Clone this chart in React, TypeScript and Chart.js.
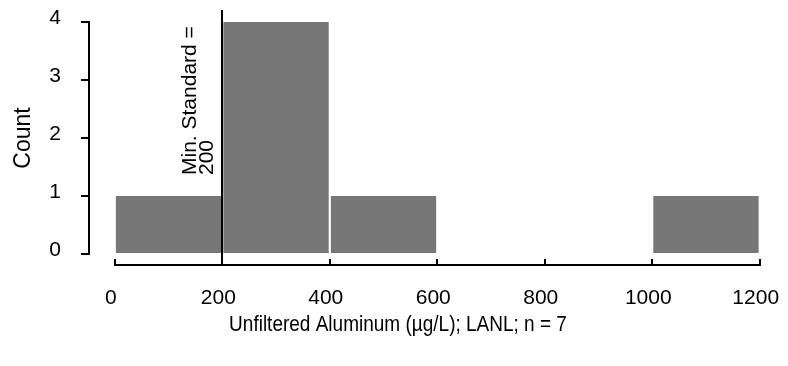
import React, { useEffect, useRef } from "react";
import { Chart, registerables } from "chart.js";

Chart.register(...registerables);

const binCenters = [100, 300, 500, 700, 900, 1100];
const counts = [1, 4, 1, 0, 0, 1];
const xTickValues = [0, 200, 400, 600, 800, 1000, 1200];
const yTickValues = [0, 1, 2, 3, 4];
const standardValue = 200;
const standardLabel = ["Min. Standard =", "200"];
const xTitle = "Unfiltered Aluminum (\u00b5g/L); LANL; n = 7";
const yTitle = "Count";

const FONT = "'Liberation Sans', Arial, Helvetica, sans-serif";

const overlayPlugin = {
  id: "overlay",
  afterDraw(chart: any) {
    const { ctx, chartArea, scales } = chart;
    const x = scales.x;
    const axisY = chartArea.bottom + 11;
    ctx.save();
    ctx.strokeStyle = "#000";
    ctx.lineWidth = 2;
    // x axis line
    ctx.beginPath();
    ctx.moveTo(x.getPixelForValue(xTickValues[0]), axisY);
    ctx.lineTo(x.getPixelForValue(xTickValues[xTickValues.length - 1]), axisY);
    ctx.stroke();
    // tick marks (upwards)
    for (const v of xTickValues) {
      const px = Math.round(x.getPixelForValue(v));
      ctx.beginPath();
      ctx.moveTo(px, axisY + 1);
      ctx.lineTo(px, axisY - 6);
      ctx.stroke();
    }
    // standard line
    const sx = Math.round(x.getPixelForValue(standardValue));
    ctx.beginPath();
    ctx.moveTo(sx, 10);
    ctx.lineTo(sx, axisY);
    ctx.stroke();
    // x title (slightly tall, like the scanned original)
    ctx.fillStyle = "#000";
    ctx.font = "19px " + FONT;
    ctx.textAlign = "center";
    ctx.textBaseline = "middle";
    ctx.save();
    ctx.translate(398, 325);
    ctx.scale(1, 1.12);
    ctx.fillText(xTitle, 0, 0);
    ctx.restore();
    // standard label
    ctx.font = "21px " + FONT;
    ctx.textAlign = "left";
    ctx.textBaseline = "middle";
    ctx.translate(sx - 32, 175);
    ctx.rotate(-Math.PI / 2);
    ctx.fillText(standardLabel[0], 0, 0);
    ctx.fillText(standardLabel[1], 0, 17);
    ctx.restore();
  },
};

export default function App() {
  const ref = useRef<HTMLCanvasElement>(null);
  useEffect(() => {
    if (!ref.current) return;
    const chart = new Chart(ref.current, {
      type: "bar",
      data: {
        datasets: [
          {
            data: binCenters.map((c, i) => ({ x: c, y: counts[i] })),
            backgroundColor: "#777777",
            borderWidth: 0,
            barPercentage: 1,
            categoryPercentage: 0.98,
          },
        ],
      },
      options: {
        animation: false,
        responsive: false,
        events: [],
        layout: { padding: { top: 22, right: 10, bottom: 0, left: 0 } },
        plugins: { legend: { display: false }, tooltip: { enabled: false } },
        scales: {
          x: {
            type: "linear",
            offset: false,
            min: -48,
            max: 1234,
            afterBuildTicks: (s: any) => {
              s.ticks = xTickValues.map((v) => ({ value: v }));
            },
            afterFit: (s: any) => {
              s.height = 112;
              s.paddingLeft = 0;
              s.paddingRight = 0;
            },
            grid: { display: false, drawTicks: false },
            border: { display: false },
            ticks: {
              color: "#000",
              font: { family: FONT, size: 21 },
              padding: 32,
              labelOffset: -4,
              maxRotation: 0,
              autoSkip: false,
              callback: (v: any) => String(v),
            },
            title: { display: false },
          },
          y: {
            min: 0,
            max: 4,
            afterBuildTicks: (s: any) => {
              s.ticks = yTickValues.map((v) => ({ value: v }));
            },
            afterFit: (s: any) => {
              s.width = 89;
              s.paddingTop = 0;
              s.paddingBottom = 0;
            },
            grid: {
              drawOnChartArea: false,
              drawTicks: true,
              tickLength: 8,
              color: "#000",
              lineWidth: 2,
            },
            border: { display: true, color: "#000", width: 2 },
            ticks: {
              color: "#000",
              font: { family: FONT, size: 21 },
              padding: 20,
              labelOffset: -4,
              callback: (v: any) => String(v),
            },
            title: {
              display: true,
              text: yTitle,
              color: "#000",
              font: { family: FONT, size: 23 },
              padding: { top: 10, bottom: 0 },
            },
          },
        },
      },
      plugins: [overlayPlugin],
    } as any);
    return () => chart.destroy();
  }, []);
  return (
    <div style={{ position: "absolute", left: 0, top: 0, width: 788, height: 366, background: "#fff" }}>
      <canvas ref={ref} width={788} height={366} style={{ width: 788, height: 366, display: "block" }} />
    </div>
  );
}
